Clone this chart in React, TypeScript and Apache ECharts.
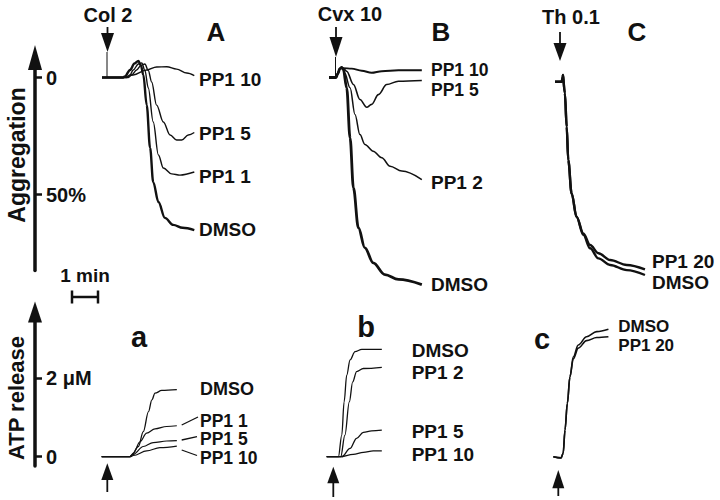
import React, { useEffect, useRef } from "react";
import * as echarts from "echarts";

// x: minutes from start of trace; top: aggregation in % (downwards); bottom: ATP release in µM
const aggTicks = [0, 50];
const atpTicks = [0, 2];

const A_DMSO = [[0,0],[0.81,0],[0.88,-0.5],[1.08,-3.2],[1.25,-6],[1.40,-7.1],[1.50,-5],[1.59,-1.1],[1.72,11.8],[1.85,30.1],[1.97,44.7],[2.17,53.2],[2.42,60],[2.74,63],[3.1,64.2],[3.55,65.2]];
const A_PP1_1 = [[0,0],[0.95,0],[1.08,-1.2],[1.20,-3.2],[1.40,-5.8],[1.53,-6.2],[1.65,-3],[1.78,4.5],[1.97,19.0],[2.17,33.1],[2.36,38.7],[2.68,41.2],[3.0,41.7],[3.55,40.4]];
const A_PP1_5 = [[0,0],[1.01,0],[1.15,-1.2],[1.33,-3.2],[1.50,-5.2],[1.65,-5.8],[1.78,-3],[1.91,1.9],[2.10,11.8],[2.36,19.0],[2.62,24.6],[2.87,26.7],[3.07,26.7],[3.32,24.6],[3.55,23.5]];
const A_PP1_10 = [[0,0],[0.81,0],[1.20,-1.1],[1.72,-3.2],[2.10,-4.5],[2.49,-4.6],[2.87,-3.6],[3.26,-1.9],[3.55,-0.8]];

const B_DMSO = [[0,0],[0.27,0],[0.33,-1.5],[0.42,-3.8],[0.49,-4.3],[0.55,-3.5],[0.68,4.4],[0.81,25.8],[0.94,47.2],[1.13,64.2],[1.38,72.8],[1.70,79.2],[2.15,84.2],[2.67,86.3],[3.57,88.5]];
const B_PP1_2 = [[0,0],[0.27,0],[0.33,-1.5],[0.42,-3.8],[0.49,-4.3],[0.60,-2],[0.81,4.4],[1.0,15.8],[1.19,24.4],[1.38,28.6],[1.70,31.5],[2.03,34.3],[2.35,37.9],[2.80,40.0],[3.57,43.6]];
const B_PP1_5 = [[0,0],[0.27,0],[0.33,-1.5],[0.42,-3.8],[0.49,-4.3],[0.58,-3.6],[0.68,-2.7],[0.94,3.0],[1.19,9.4],[1.45,12.7],[1.64,11.5],[1.90,7.3],[2.22,3.0],[2.67,1.6],[3.57,1.3]];
const B_PP1_10 = [[0,0],[0.27,0],[0.33,-1.5],[0.42,-3.8],[0.49,-4.3],[0.55,-4.0],[0.87,-3.8],[1.26,-2.9],[1.64,-2.0],[2.03,-2.7],[2.67,-3.1],[3.57,-3.1]];

const C_PP1_20 = [[0,1.8],[0.26,1.8],[0.29,0],[0.31,-1.1],[0.33,-1.1],[0.38,6.8],[0.45,21.1],[0.51,35.3],[0.64,49.6],[0.83,59.6],[1.09,66.6],[1.35,71.6],[1.67,75.1],[2.12,78.0],[2.76,80.1],[3.46,82.0]];
const C_DMSO = [[0,1.8],[0.26,1.8],[0.29,0],[0.31,-1.1],[0.33,-1.1],[0.38,6.8],[0.45,21.1],[0.51,35.3],[0.64,49.6],[0.83,59.6],[1.09,67.2],[1.35,73.0],[1.67,77.3],[2.12,80.1],[2.76,82.3],[3.46,84.4]];

const a_DMSO = [[0,0],[1.09,0],[1.15,0.04],[1.41,0.26],[1.60,0.64],[1.80,1.15],[1.93,1.45],[2.05,1.62],[2.31,1.69],[2.89,1.71]];
const a_PP1_1 = [[0,0],[1.09,0],[1.22,0.09],[1.47,0.38],[1.73,0.60],[2.05,0.71],[2.50,0.77],[2.89,0.79]];
const a_PP1_5 = [[0,0],[1.09,0],[1.22,0.06],[1.60,0.26],[1.98,0.36],[2.50,0.40],[2.89,0.41]];
const a_PP1_10 = [[0,0],[1.09,0],[1.22,0.03],[1.73,0.15],[2.24,0.23],[2.89,0.27]];

const b_DMSO = [[0,0],[0.45,0],[0.58,0.55],[0.67,1.40],[0.77,2.08],[0.90,2.47],[1.09,2.68],[1.35,2.74],[2.12,2.74]];
const b_PP1_2 = [[0,0],[0.54,0],[0.70,0.55],[0.87,1.40],[1.00,1.91],[1.15,2.17],[1.41,2.25],[2.12,2.28]];
const b_PP1_5 = [[0,0],[0.58,0],[0.90,0.21],[1.15,0.47],[1.41,0.62],[1.73,0.66],[2.12,0.68]];
const b_PP1_10 = [[0,0],[0.51,0],[1.02,0.06],[1.41,0.11],[1.79,0.15],[2.12,0.15]];

const c_DMSO = [[0,0],[0.30,-0.03],[0.38,0.09],[0.45,0.68],[0.54,1.36],[0.64,2.04],[0.77,2.55],[0.96,2.85],[1.28,3.06],[1.67,3.19],[2.12,3.25]];
const c_PP1_20 = [[0,0],[0.30,-0.03],[0.38,0.09],[0.45,0.68],[0.54,1.36],[0.64,2.04],[0.77,2.50],[0.96,2.77],[1.28,2.96],[1.67,3.04],[2.12,3.06]];

const INK = "#111";
const FONT = "'Liberation Sans', Arial, Helvetica, sans-serif";

// layout (pixels)
const PXM = 26;    // px per minute
const PPCT = 2.34; // px per % aggregation
const PUM = 39.2;  // px per µM
const AGG0 = 77.5;
const ATP0 = 456.7;

function txt(text: string, x: number, y: number, size: number, align = "left", rotation = 0, lh?: number) {
  return {
    type: "text", x, y, rotation,
    style: {
      text, fill: INK, font: `bold ${size}px ${FONT}`, lineHeight: lh ?? size,
      align, verticalAlign: "middle", textAlign: align, textVerticalAlign: "middle",
    },
  };
}
const lab = (text: string, x: number, y: number, size = 19) => txt(text, x, y, size, "left", 0, size * 0.8);
function ln(x1: number, y1: number, x2: number, y2: number, w = 1.5) {
  return { type: "line", shape: { x1, y1, x2, y2 }, style: { stroke: INK, lineWidth: w } };
}
function arrowDown(x: number, top: number, headTop: number, tip: number, bottom?: number) {
  const els: any[] = [
    ln(x, top, x, headTop + 2, 1.8),
    { type: "polygon", shape: { points: [[x - 6.5, headTop], [x + 6.5, headTop], [x, tip]] }, style: { fill: INK } },
  ];
  if (bottom) els.push(ln(x - 0.5, tip, x - 0.5, bottom, 1));
  return els;
}
function arrowUp(x: number, tip: number, headBottom: number, bottom: number) {
  return [
    ln(x, headBottom - 2, x, bottom, 1.8),
    { type: "polygon", shape: { points: [[x - 6, headBottom], [x + 6, headBottom], [x, tip]] }, style: { fill: INK } },
  ];
}

export default function App() {
  const ref = useRef<HTMLDivElement>(null);
  useEffect(() => {
    if (!ref.current) return;
    const chart = echarts.init(ref.current, undefined, { renderer: "svg" });

    const topGrid = (left: number) => ({ left, top: AGG0 - 10 * PPCT, width: 4 * PXM, height: 100 * PPCT, outerBoundsMode: "none" });
    const botGrid = (left: number) => ({ left, top: ATP0 - 4 * PUM, width: 4 * PXM, height: 4.5 * PUM, outerBoundsMode: "none" });
    const grids: any[] = [
      topGrid(102), topGrid(329), topGrid(555),
      botGrid(101.7), botGrid(326.7), botGrid(553.3),
      { left: 35, top: AGG0 - 8.5 * PPCT, width: 20, height: 91 * PPCT, outerBoundsMode: "none" },
      { left: 35, top: ATP0 - 3.69 * PUM, width: 20, height: 3.93 * PUM, outerBoundsMode: "none" },
    ];
    const xAxis = grids.map((_, i) => ({ gridIndex: i, type: "value", min: 0, max: 4, show: false }));
    const hiddenY = (i: number) =>
      i < 3
        ? { gridIndex: i, type: "value", min: -10, max: 90, inverse: true, show: false }
        : { gridIndex: i, type: "value", min: -0.5, max: 4, show: false };
    const labelStyle = { color: INK, fontSize: 20, fontWeight: "bold", fontFamily: FONT };
    const yAxis: any[] = [0, 1, 2, 3, 4, 5].map(hiddenY);
    yAxis.push({
      gridIndex: 6, type: "value", min: -8.5, max: 82.5, inverse: true, position: "left",
      axisLine: { show: true, lineStyle: { color: INK, width: 3.5 }, symbol: ["none", "triangle"], symbolSize: [14, 25] },
      axisTick: { show: true, inside: true, length: 7, customValues: aggTicks, lineStyle: { color: INK, width: 2.5 } },
      axisLabel: { show: true, inside: true, margin: 11, customValues: aggTicks, formatter: (v: number) => (v === 0 ? "0" : `${v}%`), ...labelStyle },
      splitLine: { show: false },
    });
    yAxis.push({
      gridIndex: 7, type: "value", min: -0.24, max: 3.69, position: "left",
      axisLine: { show: true, lineStyle: { color: INK, width: 3.5 }, symbol: ["none", "triangle"], symbolSize: [14, 21] },
      axisTick: { show: true, inside: true, length: 7, customValues: atpTicks, lineStyle: { color: INK, width: 2.5 } },
      axisLabel: { show: true, inside: true, margin: 11, customValues: atpTicks, formatter: (v: number) => (v === 0 ? "0" : `${v} μM`), ...labelStyle },
      splitLine: { show: false },
    });

    const mk = (name: string, data: number[][], gi: number, width: number) => ({
      name, type: "line", data, xAxisIndex: gi, yAxisIndex: gi,
      showSymbol: false, symbol: "none", smooth: 0.35, smoothMonotone: "x", clip: false,
      lineStyle: { color: INK, width }, silent: true,
    });

    const series = [
      mk("DMSO", A_DMSO, 0, 2.4), mk("PP1 1", A_PP1_1, 0, 1.4), mk("PP1 5", A_PP1_5, 0, 1.4), mk("PP1 10", A_PP1_10, 0, 1.4),
      mk("DMSO", B_DMSO, 1, 2.8), mk("PP1 2", B_PP1_2, 1, 1.5), mk("PP1 5", B_PP1_5, 1, 1.6), mk("PP1 10", B_PP1_10, 1, 1.9),
      mk("PP1 20", C_PP1_20, 2, 2.4), mk("DMSO", C_DMSO, 2, 2.4),
      mk("DMSO", a_DMSO, 3, 1.3), mk("PP1 1", a_PP1_1, 3, 1.2), mk("PP1 5", a_PP1_5, 3, 1.2), mk("PP1 10", a_PP1_10, 3, 1.2),
      mk("DMSO", b_DMSO, 4, 1.3), mk("PP1 2", b_PP1_2, 4, 1.3), mk("PP1 5", b_PP1_5, 4, 1.3), mk("PP1 10", b_PP1_10, 4, 1.3),
      mk("DMSO", c_DMSO, 5, 1.6), mk("PP1 20", c_PP1_20, 5, 1.6),
    ];

    const graphic: any[] = [
      txt("Aggregation", 17, 155, 23, "center", Math.PI / 2),
      txt("ATP release", 16, 398, 22, "center", Math.PI / 2),
      // agonists
      txt("Col 2", 108, 14.5, 20, "center"),
      txt("Cvx 10", 350, 14, 20, "center"),
      txt("Th 0.1", 571, 16.5, 20, "center"),
      ...arrowDown(107.5, 27, 33, 52, 77),
      ...arrowDown(336, 27, 37, 57, 77),
      ...arrowDown(560, 32, 43, 61),
      ...arrowUp(107.3, 463.3, 480, 492),
      ...arrowUp(333.3, 466.7, 483.3, 497),
      ...arrowUp(558.3, 470, 488.3, 496),
      // panel letters
      txt("A", 216, 32, 26, "center"), txt("B", 441, 31.5, 26, "center"), txt("C", 637, 31.7, 26, "center"),
      txt("a", 139, 337, 29, "center"), txt("b", 366, 327, 29, "center"), txt("c", 542, 338.5, 29, "center"),
      // 1 min bar
      txt("1 min", 85, 275, 19, "center"),
      ln(72, 297, 98, 297, 2.5), ln(72, 290.5, 72, 303.5, 2.5), ln(98, 290.5, 98, 303.5, 2.5),
      // curve labels
      lab("PP1 10", 199, 79), lab("PP1 5", 199, 133), lab("PP1 1", 199, 176), lab("DMSO", 199, 229),
      lab("PP1 10", 431, 69.5, 17.5), lab("PP1 5", 431, 89.5, 17.5), lab("PP1 2", 431, 182.5), lab("DMSO", 431, 284),
      lab("PP1 20", 652, 261), lab("DMSO", 652, 282.5),
      lab("DMSO", 200, 389, 18), lab("PP1 1", 200, 420.5, 17.5), lab("PP1 5", 200, 439, 17.5), lab("PP1 10", 200, 457.5, 17.5),
      ln(181.7, 425, 198, 417, 1.3), ln(181.7, 440, 197, 436.7, 1.3), ln(181.7, 450, 197, 455.5, 1.3),
      lab("DMSO", 411.7, 350), lab("PP1 2", 411.7, 372.5), lab("PP1 5", 411.7, 431), lab("PP1 10", 411.7, 454),
      lab("DMSO", 618.3, 326.5, 17), lab("PP1 20", 618.3, 345.5, 17),
    ];

    chart.setOption({
      animation: false,
      backgroundColor: "#fff",
      grid: grids,
      xAxis,
      yAxis,
      series,
      graphic,
    });
    return () => chart.dispose();
  }, []);
  return <div ref={ref} style={{ position: "fixed", left: 0, top: 0, width: 720, height: 500 }} />;
}
